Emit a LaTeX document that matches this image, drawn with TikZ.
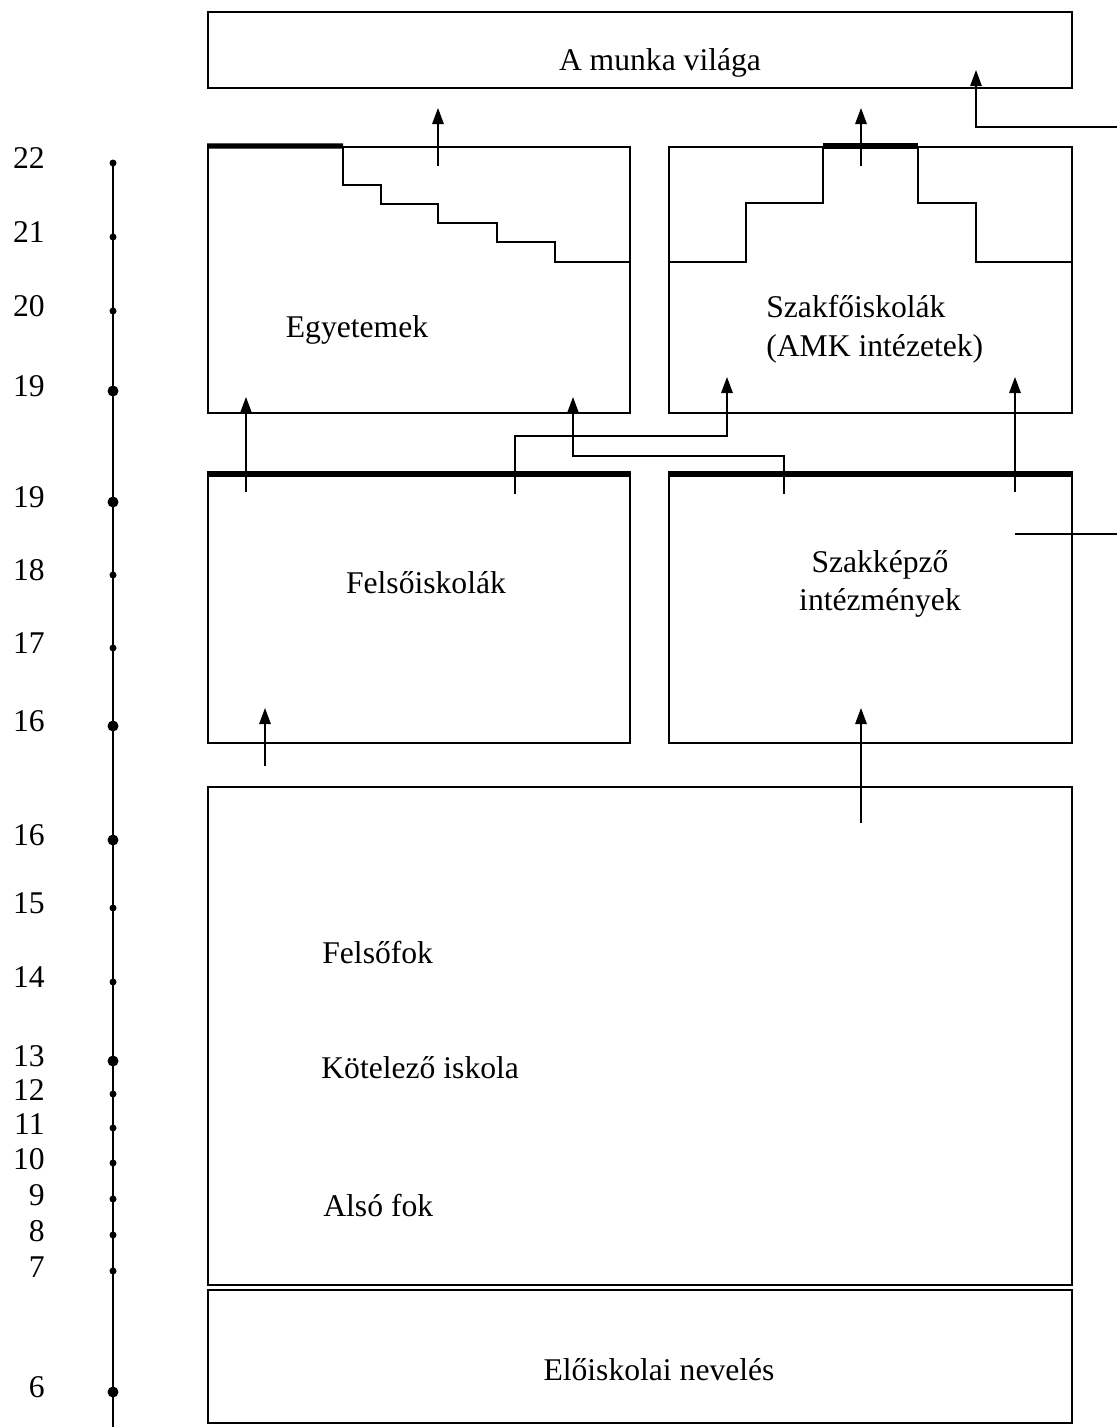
\documentclass[tikz,border=0pt]{standalone}
\usepackage{fontspec}
\setmainfont{Liberation Serif}
\usetikzlibrary{arrows.meta, fit}

\begin{document}
\begin{tikzpicture}[x=0.02cm, y=-0.02cm, >={Triangle[length=0.32cm, width=0.23cm]},
    font=\fontsize{18}{22}\selectfont,
    box/.style={draw, line width=1.1pt, inner sep=0pt},
    bar/.style={line width=3pt},
    stair/.style={line width=0.9pt},
    flow/.style={->, line width=0.8pt},
    num/.style={anchor=east, inner sep=0pt},
    tick/.style={fill=black}]
    % ================= Parameters =================
    \def\AX{113}       % x of the age axis
    \def\NX{45}        % right edge of the age numbers
    \def\rs{3.5}       % small dot radius
    \def\rb{5.5}       % large dot radius

    % Canvas (pixel units, y downwards)
    \path[use as bounding box] (0,0) rectangle (1117,1427);

    % ================= Boxes =================
    \node[box, fit={(208,12) (1072,88)}] (munka) {};
    \node[box, fit={(208,147) (630,413)}] (egy) {};
    \node[box, fit={(669,147) (1072,413)}] (amk) {};
    \node[box, fit={(208,475) (630,743)}] (fel) {};
    \node[box, fit={(669,475) (1072,743)}] (szk) {};
    \node[box, fit={(208,787) (1072,1285)}] (kot) {};
    \node[box, fit={(208,1290) (1072,1423)}] (elo) {};

    % Thinner middle of the bottom edge of the top box
    \draw[white, line width=1.3pt] (380,88) -- (938,88);
    \draw[line width=0.6pt] (380,88) -- (938,88);

    % Thick upper edges
    \draw[bar] (egy.north west) -- (343,146);
    \draw[bar] (823,146) -- (918,146);
    \draw[bar] (fel.north west) -- (fel.north east);
    \draw[bar] (szk.north west) -- (szk.north east);

    % ================= Stairs =================
    % Egyetemek: descending steps
    \draw[stair] (343,147) |- (381,185) |- (438,204) |- (497,223) |- (555,242) |- (egy.east |- 0,262);
    % Szakfoiskolak: rising and falling steps
    \draw[stair] (amk.west |- 0,262) -| (746,203) -| (823,147);
    \draw[stair] (918,147) |- (976,203) |- (amk.east |- 0,262);

    % ================= Labels =================
    \node (munkatxt) at (660,63) {A munka világa};
    \node (egytxt) at (357,330) {Egyetemek};
    \node[align=left, anchor=west, inner sep=0pt] (amktxt) at (766,329) {Szakfőiskolák\\(AMK intézetek)};
    \node (feltxt) at (426,583) {Felsőiskolák};
    \node[align=center, inner sep=0pt] (szktxt) at (880,584) {Szakképző\\intézmények};
    \node[anchor=west, inner sep=0pt] (felsofok) at (322,953) {Felsőfok};
    \node[anchor=west, inner sep=0pt] (kotelezo) at (321,1068) {Kötelező iskola};
    \node[anchor=west, inner sep=0pt] (also) at (323,1206) {Alsó fok};
    \node (elotxt) at (659,1370) {Előiskolai nevelés};

    % ================= Flow coordinates =================
    \coordinate (egyS) at (438,166);   \coordinate (egyE) at (438,108);
    \coordinate (amkS) at (861,166);   \coordinate (amkE) at (861,108);
    \coordinate (sideS) at (1117,127); \coordinate (sideE) at (976,70);
    \coordinate (felA) at (246,492);   \coordinate (felAE) at (246,397);
    \coordinate (felB) at (515,494);   \coordinate (felBK) at (727,436);  \coordinate (felBE) at (727,377);
    \coordinate (szkA) at (784,494);   \coordinate (szkAK) at (573,456);  \coordinate (szkAE) at (573,397);
    \coordinate (szkB) at (1015,492);  \coordinate (szkBE) at (1015,377);
    \coordinate (szkC) at (1015,534);  \coordinate (szkCE) at (1117,534);
    \coordinate (kotA) at (265,766);   \coordinate (kotAE) at (265,708);
    \coordinate (kotB) at (861,823);   \coordinate (kotBE) at (861,708);

    % ================= Flows =================
    \draw[flow] (egyS) -- (egyE);
    \draw[flow] (amkS) -- (amkE);
    \draw[flow] (sideS) -| (sideE);
    \draw[flow] (felA) -- (felAE);
    \draw[flow] (felB) |- (felBK) -- (felBE);
    \draw[flow] (szkA) |- (szkAK) -- (szkAE);
    \draw[flow] (szkB) -- (szkBE);
    \draw[line width=0.8pt] (szkC) -- (szkCE);
    \draw[flow] (kotA) -- (kotAE);
    \draw[flow] (kotB) -- (kotBE);

    % ================= Age axis =================
    \draw[line width=1.2pt] (\AX,163) -- (\AX,1427);
    \fill[tick] (\AX,163) circle (\rs);   \node[num] (a22) at (\NX,158) {22};
    \fill[tick] (\AX,237) circle (\rs);   \node[num] (a21) at (\NX,232) {21};
    \fill[tick] (\AX,311) circle (\rs);   \node[num] (a20) at (\NX,306) {20};
    \fill[tick] (\AX,391) circle (\rb);   \node[num] (a19a) at (\NX,386) {19};
    \fill[tick] (\AX,502) circle (\rb);   \node[num] (a19b) at (\NX,497) {19};
    \fill[tick] (\AX,575) circle (\rs);   \node[num] (a18) at (\NX,570) {18};
    \fill[tick] (\AX,648) circle (\rs);   \node[num] (a17) at (\NX,643) {17};
    \fill[tick] (\AX,726) circle (\rb);   \node[num] (a16a) at (\NX,721) {16};
    \fill[tick] (\AX,840) circle (\rb);   \node[num] (a16b) at (\NX,835) {16};
    \fill[tick] (\AX,908) circle (\rs);   \node[num] (a15) at (\NX,903) {15};
    \fill[tick] (\AX,982) circle (\rs);   \node[num] (a14) at (\NX,977) {14};
    \fill[tick] (\AX,1061) circle (\rb);  \node[num] (a13) at (\NX,1056) {13};
    \fill[tick] (\AX,1094) circle (\rs);  \node[num] (a12) at (\NX,1090) {12};
    \fill[tick] (\AX,1128) circle (\rs);  \node[num] (a11) at (\NX,1124) {11};
    \fill[tick] (\AX,1163) circle (\rs);  \node[num] (a10) at (\NX,1159) {10};
    \fill[tick] (\AX,1199) circle (\rs);  \node[num] (a9) at (\NX,1195) {9};
    \fill[tick] (\AX,1235) circle (\rs);  \node[num] (a8) at (\NX,1231) {8};
    \fill[tick] (\AX,1271) circle (\rs);  \node[num] (a7) at (\NX,1267) {7};
    \fill[tick] (\AX,1392) circle (\rb);  \node[num] (a6) at (\NX,1387) {6};

\end{tikzpicture}
\end{document}
